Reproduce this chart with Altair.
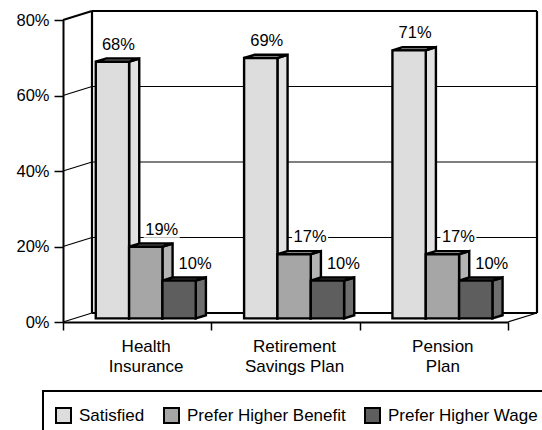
import altair as alt
import pandas as pd

# ---- data ----
categories = ["Health\nInsurance", "Retirement\nSavings Plan", "Pension\nPlan"]
series = ["Satisfied", "Prefer Higher Benefit", "Prefer Higher Wage"]
satisfied = [68, 69, 71]
prefer_benefit = [19, 17, 17]
prefer_wage = [10, 10, 10]
y_ticks = [0, 20, 40, 60, 80]

# ---- styling ----
FONT = "Liberation Sans, Arial, sans-serif"
front_colors = ["#DDDDDD", "#A6A6A6", "#5E5E5E"]
side_colors = ["#E2E2E2", "#B4B4B4", "#6E6E6E"]
label_shift_px = [6, 16, 16]

# plot area in pixels and the matching data domain
W, H = 445, 302
X_MAX, Y_MAX = 3, 80
PX_X, PX_Y = W / X_MAX, H / Y_MAX

# oblique depth of the 3-D box (pixels for the full depth)
DEPTH_DX = 29 / PX_X
DEPTH_DY = 9 / PX_Y
FRONT, BACK = 0.40, 0.75           # bar front/back planes as share of the depth
GROUP_W = 100 / PX_X
BAR_W = GROUP_W / 3
GROUP_SHIFT = -3 / PX_X

values = [satisfied, prefer_benefit, prefer_wage]

fx, fy = FRONT * DEPTH_DX, FRONT * DEPTH_DY
bx, by = BACK * DEPTH_DX, BACK * DEPTH_DY

front_rows, side_rows, top_rows, label_rows = [], [], [], []
for j, name in enumerate(series):
    for i, cat in enumerate(categories):
        v = values[j][i]
        bar = f"{j}-{i}"
        x0 = i + 0.5 + GROUP_SHIFT - GROUP_W / 2 + j * BAR_W
        x1 = x0 + BAR_W
        front_rows.append(dict(series=name, order=j, x=x0 + fx, x2=x1 + fx, y=fy, y2=v + fy))
        side_rows.append(dict(bar=bar, order=j, c=side_colors[j], x=x1 + fx, y=fy, y2=v + fy))
        side_rows.append(dict(bar=bar, order=j, c=side_colors[j], x=x1 + bx, y=by, y2=v + by))
        top_rows.append(dict(bar=bar, order=j, c=side_colors[j], y=v + fy, x=x0 + fx, x2=x1 + fx))
        top_rows.append(dict(bar=bar, order=j, c=side_colors[j], y=v + by, x=x0 + bx, x2=x1 + bx))
        cx = (x0 + x1) / 2 + fx + label_shift_px[j] / PX_X
        cy = v + fy + 17 / PX_Y
        label_rows.append(dict(text=f"{v}%", x=cx, y=cy,
                               bx=cx - 18 / PX_X, bx2=cx + 18 / PX_X,
                               by=cy - 8 / PX_Y, by2=cy + 8 / PX_Y))

front_df = pd.DataFrame(front_rows)
side_df = pd.DataFrame(side_rows)
top_df = pd.DataFrame(top_rows)
label_df = pd.DataFrame(label_rows)

# frame of the 3-D box: left wall diagonals, back wall grid, back edges
frame = []
for v in y_ticks:
    frame.append(dict(x=0, y=v, x2=DEPTH_DX, y2=v + DEPTH_DY, w=2 if v == 80 else 1.2))
for v in y_ticks[1:-1]:
    frame.append(dict(x=DEPTH_DX, y=v + DEPTH_DY, x2=X_MAX + DEPTH_DX, y2=v + DEPTH_DY, w=1))
for v in (0, 80):
    frame.append(dict(x=DEPTH_DX, y=v + DEPTH_DY, x2=X_MAX + DEPTH_DX, y2=v + DEPTH_DY, w=2.2))
for xv in (DEPTH_DX, X_MAX + DEPTH_DX):
    frame.append(dict(x=xv, y=DEPTH_DY, x2=xv, y2=Y_MAX + DEPTH_DY, w=2.2))
frame.append(dict(x=X_MAX, y=0, x2=X_MAX + DEPTH_DX, y2=DEPTH_DY, w=1.2))
frame_df = pd.DataFrame(frame)

cat_df = pd.DataFrame(dict(text=categories, x=[i + 0.5 for i in range(len(categories))], y=0))

xs = alt.Scale(domain=[0, X_MAX], nice=False, zero=False)
ys = alt.Scale(domain=[0, Y_MAX], nice=False, zero=False)
x_axis = alt.Axis(values=[0, 1, 2, 3], labels=False, tickSize=8, tickWidth=1.5,
                  domainWidth=2, domainColor="black", tickColor="black", grid=False, title=None)
y_axis = alt.Axis(values=y_ticks, labelExpr="datum.value + '%'", tickSize=9, tickWidth=1.5,
                  domainWidth=2, domainColor="black", tickColor="black", grid=False, title=None,
                  labelFont=FONT, labelFontSize=16.5, labelColor="black", labelPadding=5)


def X(field):
    return alt.X(field, type="quantitative", scale=xs, axis=x_axis)


def Y(field):
    return alt.Y(field, type="quantitative", scale=ys, axis=y_axis)


frame_layer = alt.Chart(frame_df).mark_rule(color="black").encode(
    x=X("x"), x2="x2", y=Y("y"), y2="y2",
    strokeWidth=alt.StrokeWidth("w:Q", scale=None),
)

layers = [frame_layer]
for j, name in enumerate(series):
    side = alt.Chart(side_df[side_df.order == j]).mark_area(
        stroke="black", strokeWidth=2.4, strokeJoin="miter", orient="vertical"
    ).encode(
        x=X("x"), y=Y("y"), y2="y2", detail="bar:N",
        fill=alt.Fill("c:N", scale=None),
    )
    top = alt.Chart(top_df[top_df.order == j]).mark_area(
        stroke="black", strokeWidth=2.4, strokeJoin="miter", orient="horizontal"
    ).encode(
        y=Y("y"), x=X("x"), x2="x2", detail="bar:N",
        fill=alt.Fill("c:N", scale=None),
    )
    front = alt.Chart(front_df[front_df.order == j]).mark_rect(
        stroke="black", strokeWidth=2.4, strokeJoin="miter"
    ).encode(
        x=X("x"), x2="x2", y=Y("y"), y2="y2",
        color=alt.Color(
            "series:N",
            scale=alt.Scale(domain=series, range=front_colors),
            legend=alt.Legend(
                orient="none", legendX=-20, legendY=371, direction="horizontal",
                title=" ", titleFontSize=3, titlePadding=1, fillColor="white",
                padding=12, symbolType="square", symbolSize=225,
                symbolStrokeColor="black", symbolStrokeWidth=2,
                labelFont=FONT, labelFontSize=17, labelColor="black", labelLimit=400,
                labelOffset=7, columnPadding=15,
            ),
        ),
    )
    layers += [side, top, front]

label_bg = alt.Chart(label_df).mark_rect(fill="white").encode(
    x=X("bx"), x2="bx2", y=Y("by"), y2="by2"
)
labels = alt.Chart(label_df).mark_text(
    font=FONT, fontSize=16.5, color="black", baseline="middle", align="center"
).encode(x=X("x"), y=Y("y"), text="text:N")

cat_labels = alt.Chart(cat_df).mark_text(
    font=FONT, fontSize=17, color="black", baseline="top", align="center",
    lineBreak="\n", lineHeight=20, dx=9, dy=17,
).encode(x=X("x"), y=Y("y"), text="text:N")

chart = alt.layer(*layers, label_bg, labels, cat_labels).properties(
    width=W, height=H,
    autosize=alt.AutoSizeParams(type="none"),
    padding={"left": 63, "top": 20, "right": 34, "bottom": 108},
    background="white",
).configure_view(stroke=None).configure_legend(
    strokeColor="black", strokeWidth=2, cornerRadius=0
)

chart.save("out.html", embed_options={"renderer": "svg", "actions": False})
